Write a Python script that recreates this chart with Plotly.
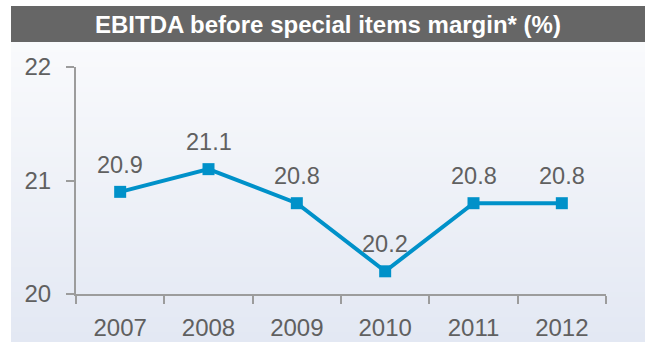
import plotly.graph_objects as go

# Chart data
years = ["2007", "2008", "2009", "2010", "2011", "2012"]
margin_pct = [20.9, 21.1, 20.8, 20.2, 20.8, 20.8]
y_ticks = [20, 21, 22]
title_text = "EBITDA before special items margin* (%)"

W, H = 645, 342
L, R, T, B = 76, 39, 67, 48
plot_w = W - L - R
plot_h = H - T - B

FONT = "Liberation Sans, Arial, sans-serif"
BLUE = "#0091c9"
GREY_TEXT = "#606060"
AXIS = "#9c9c9c"


def px_x(p):
    return (p - L) / plot_w


def px_y(p):
    return (H - B - p) / plot_h


shapes = []

# panel background: vertical gradient drawn as thin bands
top_c = (249, 250, 252)
bot_c = (227, 232, 243)
panel_top, panel_bot = 42, H
n = 60
step = (panel_bot - panel_top) / n
for i in range(n):
    t = i / (n - 1)
    c = tuple(round(a + (b - a) * t) for a, b in zip(top_c, bot_c))
    y0 = panel_top + i * step
    y1 = y0 + step + 0.6
    shapes.append(dict(
        type="rect", xref="paper", yref="paper", layer="below",
        x0=px_x(11), x1=px_x(W + 2), y0=px_y(min(y1, H + 2)), y1=px_y(y0),
        fillcolor="rgb(%d,%d,%d)" % c, line=dict(width=0),
    ))

# title bar
shapes.append(dict(
    type="rect", xref="paper", yref="paper", layer="below",
    x0=px_x(11), x1=px_x(W + 2), y0=px_y(42), y1=px_y(6),
    fillcolor="#666666", line=dict(width=0),
))

fig = go.Figure()
fig.add_trace(go.Scatter(
    x=years, y=margin_pct, mode="lines+markers",
    line=dict(color=BLUE, width=4),
    marker=dict(symbol="square", size=12, color=BLUE),
    hoverinfo="skip", cliponaxis=False,
))

# value labels above each point (category index used as x position)
annotations = [
    dict(x=i, y=v, xref="x", yref="y", text="%.1f" % v, showarrow=False,
         yshift=27, font=dict(family=FONT, size=23.5, color=GREY_TEXT))
    for i, v in enumerate(margin_pct)
]
annotations.append(dict(
    x=px_x((11 + W) / 2), y=px_y(24), xref="paper", yref="paper",
    text="<b>%s</b>" % title_text, showarrow=False,
    font=dict(family=FONT, size=24, color="white"),
    xanchor="center", yanchor="middle",
))

fig.update_layout(
    width=W, height=H,
    margin=dict(l=L, r=R, t=T, b=B, pad=0, autoexpand=False),
    paper_bgcolor="white", plot_bgcolor="rgba(0,0,0,0)",
    showlegend=False,
    shapes=shapes, annotations=annotations,
    font=dict(family=FONT, size=24, color=GREY_TEXT),
    xaxis=dict(
        type="category", tickson="boundaries", range=[-0.5, 5.5],
        automargin=False,
        showline=True, linecolor=AXIS, linewidth=2,
        ticks="outside", ticklen=8, tickwidth=2, tickcolor=AXIS,
        showgrid=False, zeroline=False, ticklabelstandoff=11,
        tickfont=dict(family=FONT, size=24, color=GREY_TEXT),
    ),
    yaxis=dict(
        range=[20, 22], tickvals=y_ticks, automargin=False,
        showline=True, linecolor=AXIS, linewidth=2,
        ticks="outside", ticklen=8, tickwidth=2, tickcolor=AXIS,
        showgrid=False, zeroline=False, ticklabelstandoff=10,
        tickfont=dict(family=FONT, size=24, color=GREY_TEXT),
    ),
)

fig.write_html("out.html")
